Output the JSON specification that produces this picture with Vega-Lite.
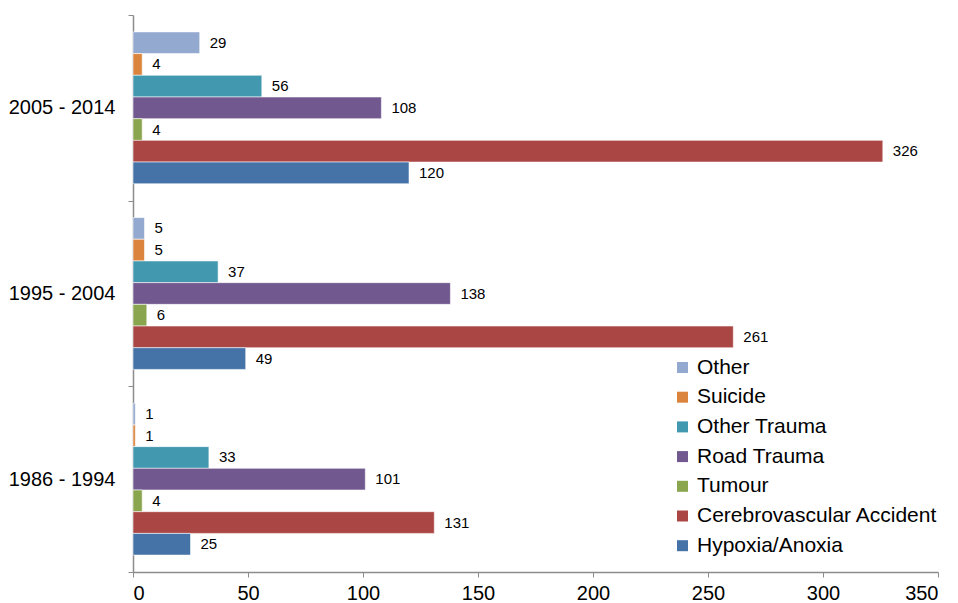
{
  "$schema": "https://vega.github.io/schema/vega-lite/v6.json",
  "width": 805,
  "height": 557,
  "autosize": {"type": "none"},
  "padding": {"left": 133, "top": 15, "right": 20, "bottom": 31},
  "background": "white",
  "config": {
    "view": {"stroke": null},
    "font": "Liberation Sans",
    "axis": {"labelFont": "Liberation Sans", "labelColor": "#000000", "domainColor": "#8c8c8c", "tickColor": "#8c8c8c", "grid": false, "title": null}
  },
  "data": {
    "values": [
      {"period": "2005 - 2014", "cause": "Other", "count": 29},
      {"period": "2005 - 2014", "cause": "Suicide", "count": 4},
      {"period": "2005 - 2014", "cause": "Other Trauma", "count": 56},
      {"period": "2005 - 2014", "cause": "Road Trauma", "count": 108},
      {"period": "2005 - 2014", "cause": "Tumour", "count": 4},
      {"period": "2005 - 2014", "cause": "Cerebrovascular Accident", "count": 326},
      {"period": "2005 - 2014", "cause": "Hypoxia/Anoxia", "count": 120},
      {"period": "1995 - 2004", "cause": "Other", "count": 5},
      {"period": "1995 - 2004", "cause": "Suicide", "count": 5},
      {"period": "1995 - 2004", "cause": "Other Trauma", "count": 37},
      {"period": "1995 - 2004", "cause": "Road Trauma", "count": 138},
      {"period": "1995 - 2004", "cause": "Tumour", "count": 6},
      {"period": "1995 - 2004", "cause": "Cerebrovascular Accident", "count": 261},
      {"period": "1995 - 2004", "cause": "Hypoxia/Anoxia", "count": 49},
      {"period": "1986 - 1994", "cause": "Other", "count": 1},
      {"period": "1986 - 1994", "cause": "Suicide", "count": 1},
      {"period": "1986 - 1994", "cause": "Other Trauma", "count": 33},
      {"period": "1986 - 1994", "cause": "Road Trauma", "count": 101},
      {"period": "1986 - 1994", "cause": "Tumour", "count": 4},
      {"period": "1986 - 1994", "cause": "Cerebrovascular Accident", "count": 131},
      {"period": "1986 - 1994", "cause": "Hypoxia/Anoxia", "count": 25}
    ]
  },
  "encoding": {
    "y": {
      "field": "period",
      "type": "nominal",
      "sort": ["2005 - 2014", "1995 - 2004", "1986 - 1994"],
      "scale": {"paddingInner": 0, "paddingOuter": 0},
      "axis": {"tickBand": "extent", "tickSize": 5, "labelFontSize": 20, "labelPadding": 13, "domainWidth": 1.5}
    },
    "yOffset": {
      "field": "cause",
      "type": "nominal",
      "sort": ["Other", "Suicide", "Other Trauma", "Road Trauma", "Tumour", "Cerebrovascular Accident", "Hypoxia/Anoxia"],
      "scale": {"paddingInner": 0, "paddingOuter": 0.78}
    },
    "x": {
      "field": "count",
      "type": "quantitative",
      "scale": {"domain": [0, 350], "nice": false},
      "axis": {"values": [0, 50, 100, 150, 200, 250, 300, 350], "tickSize": 5, "labelFontSize": 20, "labelPadding": 6, "domainWidth": 1.5}
    }
  },
  "layer": [
    {
      "mark": {"type": "bar", "stroke": "white", "strokeWidth": 0.8, "strokeOpacity": 0.7},
      "encoding": {
        "color": {
          "field": "cause",
          "type": "nominal",
          "scale": {
            "domain": ["Other", "Suicide", "Other Trauma", "Road Trauma", "Tumour", "Cerebrovascular Accident", "Hypoxia/Anoxia"],
            "range": ["#93A9CF", "#DB843D", "#4198AF", "#71588F", "#89A54E", "#AA4643", "#4572A7"]
          },
          "legend": {
            "title": null,
            "orient": "none",
            "legendX": 539,
            "legendY": 342,
            "symbolType": "square",
            "symbolSize": 121,
            "symbolStrokeWidth": 0,
            "labelFontSize": 21,
            "labelColor": "#000000",
            "labelOffset": 4,
            "labelLimit": 500,
            "rowPadding": 7.7
          }
        }
      }
    },
    {
      "mark": {"type": "text", "align": "left", "baseline": "middle", "dx": 10, "fontSize": 15, "color": "#000000"},
      "encoding": {"text": {"field": "count", "type": "quantitative"}}
    }
  ]
}
